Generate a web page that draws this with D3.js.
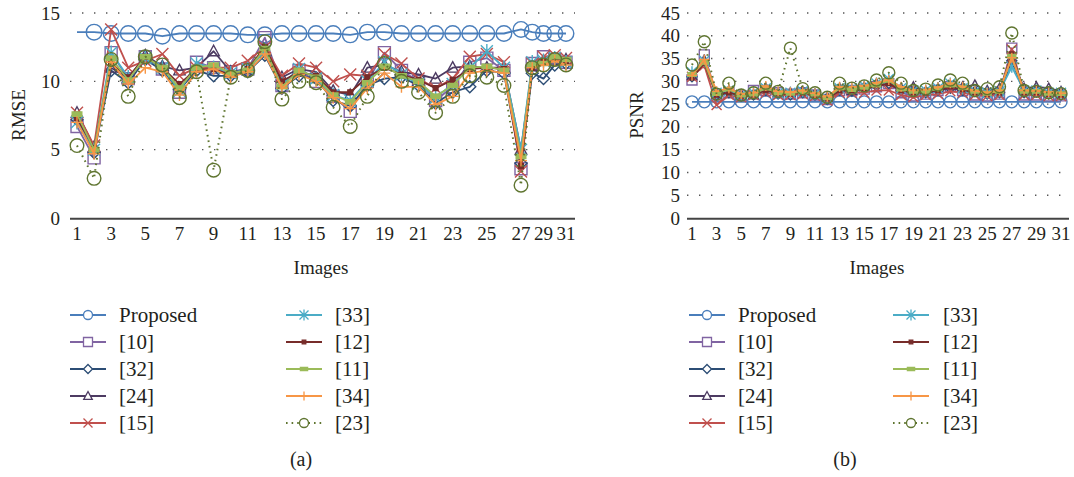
<!DOCTYPE html>
<html><head><meta charset="utf-8">
<script src="https://cdn.jsdelivr.net/npm/d3@7"></script>
<style>
body{margin:0;background:#fff}
text{font-family:"Liberation Serif","DejaVu Serif",serif;fill:#231f20}
</style>
</head><body>
<svg id="c" width="1074" height="477"></svg>
<script>
// ---------------- data ----------------
const images = [1,2,3,4,5,6,7,8,9,10,11,12,13,14,15,16,17,18,19,20,21,22,23,24,25,26,27,28,29,30,31];
const xTickLabels = [1,3,5,7,9,11,13,15,17,19,21,23,25,27,29,31];
const rmseTicks = [0,5,10,15];
const psnrTicks = [0,5,10,15,20,25,30,35,40,45];
const seriesNames = ["Proposed","[10]","[32]","[24]","[15]","[33]","[12]","[11]","[34]","[23]"];

const rmseProposed = [13.6,13.6,13.5,13.5,13.5,13.3,13.5,13.5,13.5,13.5,13.4,13.4,13.5,13.5,13.5,13.5,13.4,13.6,13.6,13.5,13.5,13.5,13.5,13.5,13.5,13.5,13.8,13.6,13.5,13.5,13.5];
const rmse10 = [6.7,4.4,12.1,10.2,11.8,10.9,9.2,11.4,11.0,10.7,10.9,13.2,9.7,10.8,10.0,8.9,7.8,10.0,12.1,10.8,10.0,8.6,9.6,11.4,11.7,10.8,3.6,11.3,11.8,11.6,11.4];
const rmse32 = [7.2,4.8,10.8,9.9,11.6,10.8,9.4,10.8,10.4,10.4,10.7,11.9,9.5,10.4,10.2,8.6,8.2,9.7,10.2,10.3,9.7,8.4,9.2,9.6,10.8,10.6,4.0,10.6,10.2,11.2,11.3];
const rmse24 = [7.7,5.2,11.0,10.2,11.9,11.1,10.8,11.0,12.2,10.7,10.9,12.2,10.3,10.9,10.7,9.3,9.0,11.0,11.2,10.7,10.5,10.2,11.0,11.1,11.0,11.0,5.0,11.1,11.5,11.6,11.6];
const rmse15 = [7.7,5.3,13.8,11.0,11.5,12.0,10.4,11.0,11.0,11.0,11.5,12.5,10.4,11.3,11.0,10.0,10.5,10.4,12.0,11.3,10.2,9.5,10.2,11.8,12.0,11.4,3.4,11.3,11.8,11.9,11.7];
const rmse33 = [7.0,5.0,12.1,10.3,11.7,11.0,9.3,11.3,11.0,10.6,10.9,12.2,9.8,10.9,10.2,9.0,8.6,10.0,11.4,10.5,9.8,8.8,9.8,11.0,12.2,11.0,5.0,11.4,11.5,11.7,11.4];
const rmse12 = [7.3,5.1,11.3,10.3,11.8,11.0,9.8,10.9,10.9,10.5,10.9,12.5,10.0,10.7,10.4,9.2,9.2,10.3,11.0,10.5,10.1,9.5,10.1,10.9,11.0,10.9,3.8,11.0,11.4,11.6,11.5];
const rmse11 = [7.6,5.0,11.7,10.1,11.8,11.0,9.5,11.0,11.2,10.6,10.8,12.4,9.6,10.8,10.3,9.0,8.5,9.9,11.1,10.4,10.0,8.9,9.7,11.0,11.1,10.8,4.5,11.2,11.3,11.8,11.6];
const rmse34 = [7.0,4.7,11.4,9.8,11.0,10.7,9.0,10.7,10.9,10.3,10.7,12.0,9.5,10.5,10.0,8.8,8.0,9.5,10.6,9.6,9.6,8.3,8.9,10.6,10.8,10.6,4.2,11.0,11.2,11.5,11.2];
const rmse23 = [5.3,2.9,11.6,8.9,11.8,11.2,8.8,10.7,3.5,10.3,10.8,12.9,8.7,10.0,9.9,8.1,6.7,8.9,11.3,10.0,9.2,7.7,8.9,10.4,10.3,9.7,2.4,11.0,11.2,11.6,11.2];

const psnrProposed = [25.5,25.5,25.5,25.5,25.5,25.5,25.5,25.5,25.5,25.5,25.5,25.5,25.5,25.5,25.5,25.5,25.5,25.5,25.5,25.5,25.5,25.5,25.5,25.5,25.5,25.5,25.5,25.5,25.5,25.5,25.5];
const psnr10 = [30.3,35.8,27.0,27.5,26.8,28.0,28.0,27.5,27.2,27.5,27.0,26.0,28.0,28.0,28.3,28.8,29.5,27.5,26.8,27.2,28.0,28.8,28.0,27.0,26.8,27.2,37.3,27.0,27.0,26.8,26.8];
const psnr32 = [31.0,34.0,27.0,27.5,26.8,27.0,28.0,27.2,27.0,27.5,27.0,26.0,28.0,27.8,28.5,29.0,29.5,28.0,27.5,27.5,28.0,28.5,28.0,27.8,27.2,27.5,34.5,27.5,27.8,27.2,27.0];
const psnr24 = [31.2,34.5,27.2,28.0,27.0,27.0,28.5,27.5,27.5,27.8,27.2,26.5,28.5,28.0,28.8,29.5,30.0,28.5,28.8,27.8,28.5,29.0,28.8,29.2,28.0,28.5,35.0,28.5,28.8,28.5,27.8];
const psnr15 = [31.0,33.5,24.8,27.0,26.5,27.0,27.5,27.0,27.0,27.2,26.8,25.8,27.5,27.5,27.5,28.0,28.0,27.0,26.5,27.0,27.2,27.8,27.5,27.0,26.8,27.0,37.0,27.0,27.0,26.8,26.8];
const psnr33 = [32.0,34.5,27.5,28.0,27.0,27.5,28.5,27.5,27.5,27.8,27.2,26.3,28.5,28.5,29.0,29.5,30.5,28.5,28.0,28.0,28.5,29.5,28.5,27.8,27.5,27.8,33.2,28.0,28.0,27.5,27.5];
const psnr12 = [30.8,34.0,27.0,27.5,26.8,27.0,28.0,27.3,27.2,27.5,27.0,26.2,28.0,28.0,28.3,29.0,29.5,28.0,27.5,27.5,28.0,28.8,28.2,27.5,27.2,27.5,36.0,27.5,27.5,27.2,27.0];
const psnr11 = [31.5,34.2,27.3,28.3,27.0,27.2,28.5,27.5,27.4,27.7,27.2,26.4,28.5,28.2,28.7,29.2,30.2,28.3,27.8,27.8,28.4,29.2,28.6,27.8,27.4,27.8,35.5,27.8,27.8,27.4,27.3];
const psnr34 = [31.3,34.8,27.8,28.5,27.2,27.5,29.0,27.8,27.6,28.0,27.4,26.6,28.8,28.8,29.0,29.7,30.3,28.8,28.0,28.2,28.7,29.6,28.8,27.9,27.5,28.0,35.2,28.0,27.9,27.6,27.4];
const psnr23 = [33.6,38.7,27.2,29.6,27.0,27.5,29.6,27.8,37.3,28.4,27.5,26.5,29.6,28.5,29.0,30.3,31.9,29.6,28.0,28.3,29.2,30.3,29.6,28.0,28.4,28.8,40.6,28.0,27.8,27.5,27.3];

const rmseSeries = [rmseProposed,rmse10,rmse32,rmse24,rmse15,rmse33,rmse12,rmse11,rmse34,rmse23];
const psnrSeries = [psnrProposed,psnr10,psnr32,psnr24,psnr15,psnr33,psnr12,psnr11,psnr34,psnr23];

// ---------------- styles ----------------
const styles = [
  {color:"#4a7ebb", marker:"circle"},
  {color:"#8064a2", marker:"square"},
  {color:"#2c4d75", marker:"diamond"},
  {color:"#4d3b62", marker:"triangle"},
  {color:"#c0504d", marker:"x"},
  {color:"#4bacc6", marker:"star"},
  {color:"#772c2a", marker:"smallsq"},
  {color:"#9bbb59", marker:"dash"},
  {color:"#f79646", marker:"plus"},
  {color:"#5f7530", marker:"circle", dotted:true}
];

function markerPath(type, s){
  switch(type){
    case "circle": return `M${s},0A${s},${s} 0 1,1 ${-s},0A${s},${s} 0 1,1 ${s},0Z`;
    case "square": return `M${-s},${-s}H${s}V${s}H${-s}Z`;
    case "diamond": return `M0,${-s}L${s},0L0,${s}L${-s},0Z`;
    case "triangle": return `M0,${-s}L${s*0.95},${s*0.75}L${-s*0.95},${s*0.75}Z`;
    case "x": return `M${-s},${-s}L${s},${s}M${-s},${s}L${s},${-s}`;
    case "star": return `M${-s},${-s}L${s},${s}M${-s},${s}L${s},${-s}M0,${-s*1.2}V${s*1.2}`;
    case "plus": return `M${-s},0H${s}M0,${-s}V${s}`;
    case "smallsq": return `M${-s*0.4},${-s*0.4}H${s*0.4}V${s*0.4}H${-s*0.4}Z`;
    case "dash": return `M${-s*0.8},${-s*0.35}H${s*0.8}V${s*0.35}H${-s*0.8}Z`;
  }
}
const filled = t => t==="smallsq"||t==="dash";

const svg = d3.select("#c");

function drawChart(cfg){
  const g = svg.append("g");
  const x = cfg.x, y = cfg.y;
  g.selectAll("line.grid").data(cfg.yTicks.filter(t=>t>0)).join("line")
    .attr("x1",cfg.gx0).attr("x2",cfg.gx1)
    .attr("y1",d=>y(d)).attr("y2",d=>y(d))
    .attr("stroke","#555").attr("stroke-width",1.4).attr("stroke-dasharray","1.4,10.6");
  g.selectAll("text.yt").data(cfg.yTicks).join("text")
    .attr("x",cfg.ylabX).attr("y",d=>y(d)+6.5).attr("text-anchor","end")
    .attr("font-size",19).text(d=>d);
  g.append("line").attr("x1",cfg.gx0).attr("x2",cfg.gx1).attr("y1",y(0)+0.8).attr("y2",y(0)+0.8)
    .attr("stroke","#444").attr("stroke-width",2);
  g.selectAll("text.xt").data(xTickLabels).join("text")
    .attr("x",d=>x(d)).attr("y",240).attr("text-anchor","middle")
    .attr("font-size",19).text(d=>d);
  g.append("text").attr("x",cfg.titleX).attr("y",274).attr("text-anchor","middle")
    .attr("font-size",19).text("Images");
  g.append("text").attr("transform",`translate(${cfg.ytitleX},115) rotate(-90)`)
    .attr("text-anchor","middle").attr("font-size",19).text(cfg.ytitle);
  const line = d3.line().x((d,i)=>x(images[i])).y(d=>y(d));
  cfg.series.forEach((vals,si)=>{
    const st = styles[si];
    g.append("path").attr("d",line(vals)).attr("fill","none")
      .attr("stroke",st.color).attr("stroke-width",st.dotted?2:1.8)
      .attr("stroke-dasharray",st.dotted?"1.6,4":null)
      .attr("stroke-linejoin","round");
    const ms = si===0 ? cfg.mBig : cfg.mSize;
    const pts = vals.map((v,i)=>({v,i})).filter(p=>!(si===0 && cfg.skipFirstProposed && p.i===0));
    g.selectAll(null).data(pts).join("path")
      .attr("transform",p=>`translate(${x(images[p.i])},${y(p.v)})`)
      .attr("d",markerPath(st.marker, st.marker==="circle"&&si===9?cfg.mC23:ms))
      .attr("fill",filled(st.marker)?st.color:"none")
      .attr("stroke",st.color).attr("stroke-width",1.4);
  });
  const lg = svg.append("g");
  seriesNames.forEach((name,i)=>{
    const col = i<5?0:1, row = i%5;
    const lx = cfg.legX[col], tx = cfg.legTX[col];
    const ly = 315 + row*27;
    const st = styles[i];
    lg.append("line").attr("x1",lx).attr("x2",lx+36).attr("y1",ly).attr("y2",ly)
      .attr("stroke",st.color).attr("stroke-width",1.8)
      .attr("stroke-dasharray",st.dotted?"1.6,4":null);
    lg.append("path").attr("transform",`translate(${lx+18},${ly})`)
      .attr("d",markerPath(st.marker,4.5))
      .attr("fill",filled(st.marker)?st.color:"#fff")
      .attr("stroke",st.color).attr("stroke-width",1.3);
    lg.append("text").attr("x",tx).attr("y",ly+7).attr("font-size",21).text(name);
  });
  svg.append("text").attr("x",cfg.capX).attr("y",466).attr("text-anchor","middle")
    .attr("font-size",20).text(cfg.caption);
}

drawChart({
  x: d3.scaleLinear().domain([1,27,31]).range([77,521,566]),
  y: d3.scaleLinear().domain([0,15]).range([218,13]),
  yTicks: rmseTicks, series: rmseSeries, skipFirstProposed: true,
  gx0:70, gx1:575, ylabX:60, titleX:321, ytitleX:25, ytitle:"RMSE",
  mBig:7.8, mSize:6, mC23:6.8,
  legX:[70,286], legTX:[119,335], capX:301, caption:"(a)"
});
drawChart({
  x: d3.scaleLinear().domain([1,31]).range([692,1061]),
  y: d3.scaleLinear().domain([0,45]).range([218,13]),
  yTicks: psnrTicks, series: psnrSeries, skipFirstProposed: false,
  gx0:687, gx1:1069, ylabX:680, titleX:877, ytitleX:643, ytitle:"PSNR",
  mBig:6, mSize:5, mC23:6,
  legX:[689,893], legTX:[738,943], capX:845, caption:"(b)"
});
</script>
</body></html>
